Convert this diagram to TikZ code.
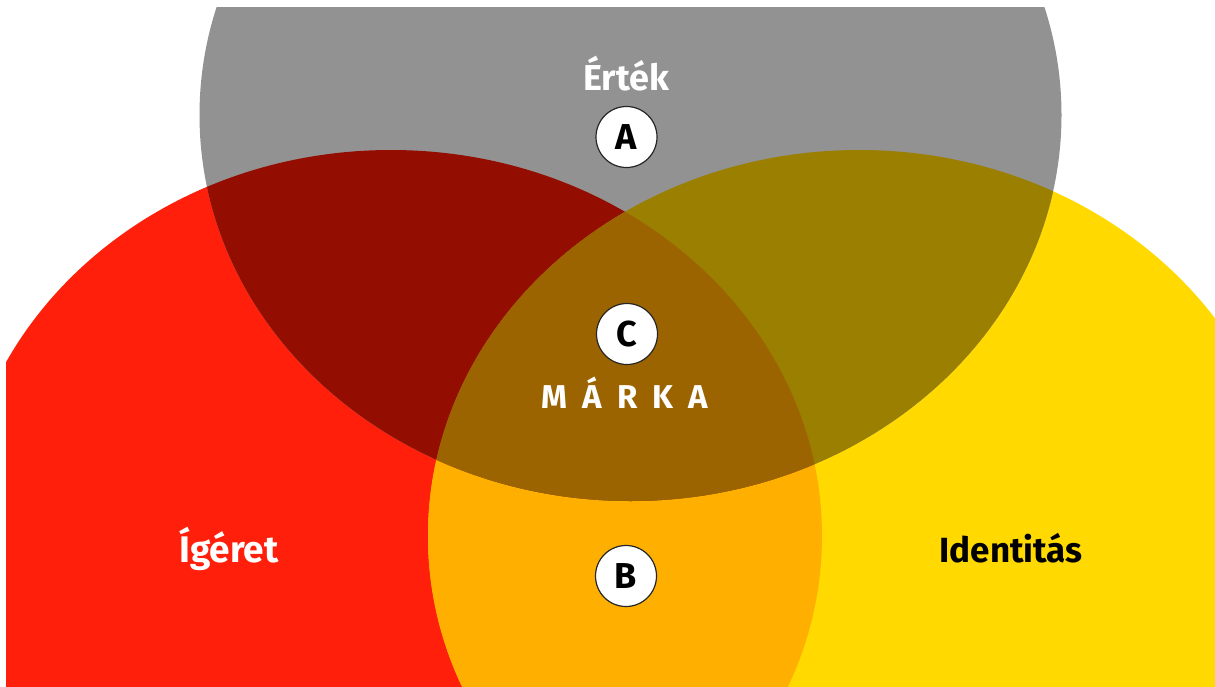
\documentclass[tikz,border=0pt]{standalone}
\usepackage{fontspec}
\setmainfont{Fira Sans}
\definecolor{cgray}{HTML}{929292}
\definecolor{cred}{HTML}{FF1F0B}
\definecolor{cyellow}{HTML}{FFD900}
\definecolor{corange}{HTML}{FFAF00}
\definecolor{cdarkred}{HTML}{930D00}
\definecolor{colive}{HTML}{9A7F00}
\definecolor{cbrown}{HTML}{9C6400}
\tikzset{
  badge/.style={circle, fill=white, draw=black!85, line width=1.2pt, minimum size=61pt, inner sep=0pt,
    font=\bfseries\fontsize{36}{36}\selectfont, text=black},
  lbl/.style={anchor=base, inner sep=0pt, font=\bfseries\fontsize{38}{38}\selectfont},
}
\newcommand{\redshape}{(391,536) ellipse [x radius=431pt, y radius=386pt]}
\newcommand{\yellowshape}{(859,536) ellipse [x radius=431pt, y radius=386pt]}
\newcommand{\grayshape}{(630.5,115) ellipse [x radius=431pt, y radius=386pt]}
\begin{document}
\begin{tikzpicture}[x=1pt,y=-1pt]
\useasboundingbox (0,0) rectangle (1215,686);
\fill[white] (0,0) rectangle (1215,686);
\begin{scope}
  \clip (6,7) rectangle (1215,686);
  \fill[cred] \redshape;
  \fill[cyellow] \yellowshape;
  \fill[cgray] \grayshape;
  \begin{scope}
    \clip \redshape;
    \fill[corange] \yellowshape;
  \end{scope}
  \begin{scope}
    \clip \grayshape;
    \fill[cdarkred] \redshape;
  \end{scope}
  \begin{scope}
    \clip \grayshape;
    \fill[colive] \yellowshape;
  \end{scope}
  \begin{scope}
    \clip \grayshape;
    \clip \redshape;
    \fill[cbrown] \yellowshape;
  \end{scope}
\end{scope}
\node[lbl, text=white, font=\bfseries\fontsize{36}{36}\selectfont] (ertek) at (626,90) {Érték};
\node[lbl, text=white, font=\bfseries\fontsize{37}{37}\selectfont] (igeret) at (229,562) {Ígéret};
\node[lbl, text=black, font=\bfseries\fontsize{35}{35}\selectfont] (identitas) at (1011,562) {Identitás};
\node[lbl, text=white, font=\bfseries\fontsize{33}{33}\selectfont] (marka) at (625,408)
  {M\hspace{15pt}Á\hspace{15pt}R\hspace{15pt}K\hspace{15pt}A};
\node[badge] (a) at (626.5,137) {A};
\node[badge] (c) at (627,334) {C};
\node[badge] (b) at (626,576) {B};
\end{tikzpicture}
\end{document}
